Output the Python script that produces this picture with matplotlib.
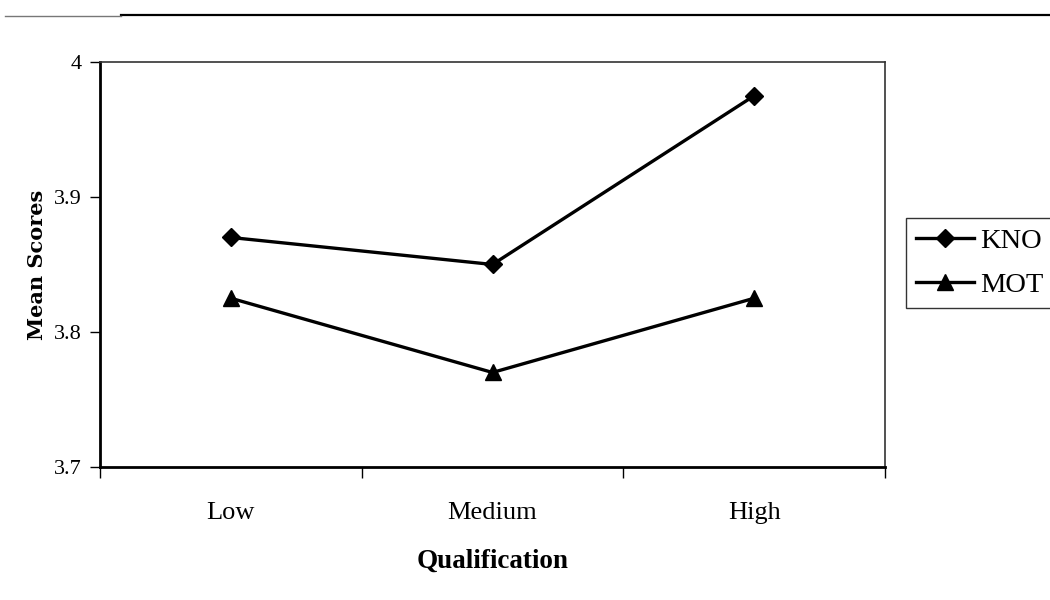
import matplotlib
matplotlib.use("Agg")
import matplotlib.pyplot as plt
from matplotlib.lines import Line2D

categories = ["Low", "Medium", "High"]
kno = [3.870, 3.850, 3.975]
mot = [3.825, 3.770, 3.825]
yticks = [3.7, 3.8, 3.9, 4.0]
ytick_labels = ["3.7", "3.8", "3.9", "4"]

plt.rcParams['font.family'] = ['Liberation Serif', 'DejaVu Serif']

fig = plt.figure(figsize=(10.5, 6), dpi=100)
ax = fig.add_axes([0.0952, 0.2217, 0.7477, 0.675])

x = range(len(categories))
ax.plot(x, kno, color='black', lw=2.4, marker='D', ms=9.5, label='KNO')
ax.plot(x, mot, color='black', lw=2.4, marker='^', ms=11, label='MOT')

ax.set_xlim(-0.5, len(categories) - 0.5)
ax.set_ylim(3.7, 4.0)

# category boundaries get the tick marks, names sit between them
ax.set_xticks([i - 0.5 for i in range(len(categories) + 1)])
ax.set_xticklabels([])
ax.set_xticks(list(x), minor=True)
ax.set_xticklabels(categories, minor=True, fontsize=19)
ax.tick_params(axis='x', which='major', direction='out', length=8, width=1)
ax.tick_params(axis='x', which='minor', length=0, pad=25)

ax.set_yticks(yticks)
ax.set_yticklabels(ytick_labels, fontsize=16)
ax.tick_params(axis='y', direction='out', length=7, width=1, pad=6)

for side in ['left', 'bottom']:
    ax.spines[side].set_linewidth(2)
for side in ['top', 'right']:
    ax.spines[side].set_linewidth(1.2)
    ax.spines[side].set_color('#333333')
    ax.spines[side].set_linestyle((0, (6, 1)))

ax.set_xlabel("Qualification", fontsize=19.5, fontweight='bold', labelpad=18)
ax.set_ylabel("Mean Scores", fontsize=15, fontweight='bold',
              family='DejaVu Serif', labelpad=5)

leg = fig.legend(loc='upper left', bbox_to_anchor=(0.8629, 0.637), fontsize=20.5,
                 frameon=True, fancybox=False, handlelength=2.05,
                 handletextpad=0.2, borderpad=0.35, labelspacing=0.65,
                 borderaxespad=0)
leg.get_frame().set_edgecolor('black')
leg.get_frame().set_linewidth(1)

# rule across the top of the page
fig.add_artist(Line2D([0.115, 1.0], [0.975, 0.975], color='black', lw=1.6,
                      transform=fig.transFigure))
fig.add_artist(Line2D([0.005, 0.115], [0.973, 0.973], color='#777777', lw=1,
                      transform=fig.transFigure))

fig.savefig("out.png", dpi=100)
